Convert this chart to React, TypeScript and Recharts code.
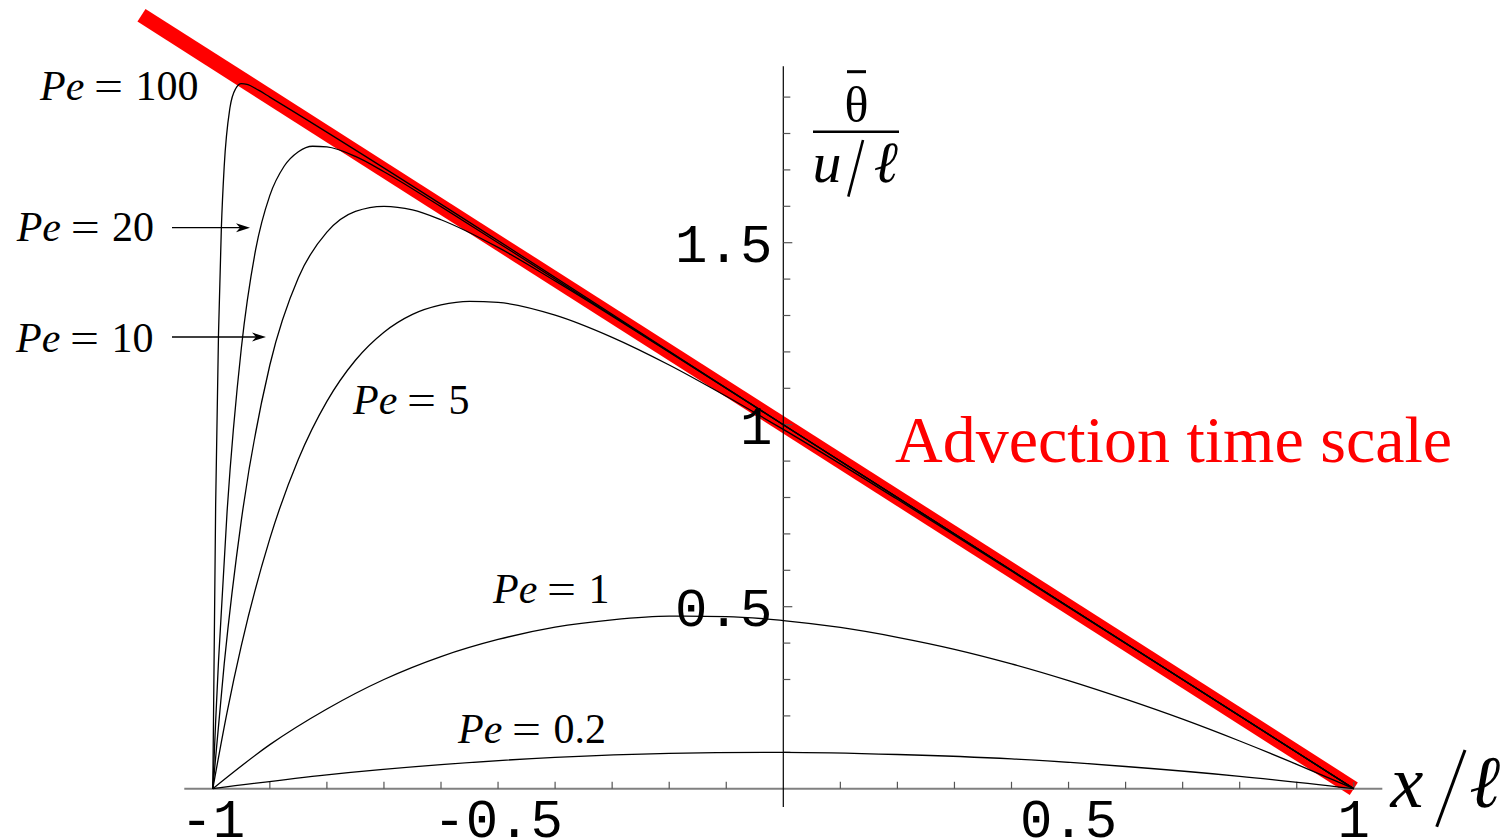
import React from 'react';
import { ComposedChart, Line, XAxis, YAxis, ReferenceLine } from 'recharts';

type Pt = { x: number; y: number };

const SERIF = '"Liberation Serif", "Times New Roman", Times, serif';
const MONO = '"Liberation Mono", "DejaVu Sans Mono", monospace';

// axis ticks
const X_LABEL_TICKS = [-1, -0.5, 0.5, 1];
const X_MINOR_TICKS = [-1, -0.9, -0.8, -0.7, -0.6, -0.5, -0.4, -0.3, -0.2, -0.1, 0.1, 0.2, 0.3, 0.4, 0.5, 0.6, 0.7, 0.8, 0.9, 1];
const Y_MINOR_TICKS = [0.1, 0.2, 0.3, 0.4, 0.6, 0.7, 0.8, 0.9, 1.1, 1.2, 1.3, 1.4, 1.6, 1.7, 1.8, 1.9];
const Y_MAJOR_TICKS = [0.5, 1, 1.5];

// advection time scale (1 - x/l)
const ADVECTION: Pt[] = [
  { x: -1.125, y: 2.125 },
  { x: 1, y: 0 },
];

// mean residence time for each Peclet number
const PE_100: Pt[] = [
  { x: -1, y: 0 }, { x: -0.995, y: 0.78 }, { x: -0.99, y: 1.25 }, { x: -0.985, y: 1.54 },
  { x: -0.98, y: 1.71 }, { x: -0.97, y: 1.87 }, { x: -0.96, y: 1.923 }, { x: -0.95, y: 1.937 },
  { x: -0.94, y: 1.935 }, { x: -0.92, y: 1.919 }, { x: -0.9, y: 1.9 }, { x: 0, y: 1 }, { x: 1, y: 0 },
];

const PE_20: Pt[] = [
  { x: -1, y: 0 }, { x: -0.995, y: 0.185 }, { x: -0.99, y: 0.35 }, { x: -0.975, y: 0.76 },
  { x: -0.95, y: 1.21 }, { x: -0.925, y: 1.48 }, { x: -0.9, y: 1.63 }, { x: -0.875, y: 1.71 },
  { x: -0.85, y: 1.75 }, { x: -0.825, y: 1.765 }, { x: -0.8, y: 1.763 }, { x: -0.75, y: 1.737 },
  { x: -0.7, y: 1.695 }, { x: -0.6, y: 1.599 }, { x: -0.5, y: 1.5 }, { x: 0, y: 1 }, { x: 1, y: 0 },
];

const PE_10: Pt[] = [
  { x: -1, y: 0 }, { x: -0.98, y: 0.343 }, { x: -0.95, y: 0.737 }, { x: -0.9, y: 1.164 },
  { x: -0.85, y: 1.404 }, { x: -0.8, y: 1.529 }, { x: -0.75, y: 1.586 }, { x: -0.7, y: 1.6 },
  { x: -0.65, y: 1.59 }, { x: -0.6, y: 1.563 }, { x: -0.5, y: 1.487 }, { x: -0.4, y: 1.395 },
  { x: -0.2, y: 1.199 }, { x: 0, y: 1 }, { x: 1, y: 0 },
];

const PE_5: Pt[] = [
  { x: -1, y: 0 }, { x: -0.975, y: 0.21 }, { x: -0.95, y: 0.393 }, { x: -0.9, y: 0.687 },
  { x: -0.85, y: 0.905 }, { x: -0.8, y: 1.064 }, { x: -0.75, y: 1.177 }, { x: -0.7, y: 1.254 },
  { x: -0.65, y: 1.303 }, { x: -0.6, y: 1.329 }, { x: -0.55, y: 1.339 }, { x: -0.5, y: 1.336 },
  { x: -0.4, y: 1.301 }, { x: -0.3, y: 1.24 }, { x: -0.2, y: 1.164 }, { x: -0.1, y: 1.078 },
  { x: 0, y: 0.987 }, { x: 0.2, y: 0.795 }, { x: 0.4, y: 0.598 }, { x: 0.6, y: 0.399 },
  { x: 0.8, y: 0.2 }, { x: 1, y: 0 },
];

const PE_1: Pt[] = [
  { x: -1, y: 0 }, { x: -0.9, y: 0.121 }, { x: -0.8, y: 0.219 }, { x: -0.7, y: 0.3 },
  { x: -0.6, y: 0.363 }, { x: -0.5, y: 0.41 }, { x: -0.4, y: 0.444 }, { x: -0.3, y: 0.464 },
  { x: -0.2, y: 0.474 }, { x: -0.1, y: 0.473 }, { x: 0, y: 0.462 }, { x: 0.1, y: 0.443 },
  { x: 0.2, y: 0.416 }, { x: 0.3, y: 0.383 }, { x: 0.4, y: 0.343 }, { x: 0.5, y: 0.297 },
  { x: 0.6, y: 0.246 }, { x: 0.7, y: 0.191 }, { x: 0.8, y: 0.131 }, { x: 0.9, y: 0.067 },
  { x: 1, y: 0 },
];

const PE_02: Pt[] = [
  { x: -1, y: 0 }, { x: -0.8, y: 0.038 }, { x: -0.6, y: 0.066 }, { x: -0.4, y: 0.086 },
  { x: -0.2, y: 0.097 }, { x: 0, y: 0.1 }, { x: 0.2, y: 0.094 }, { x: 0.4, y: 0.082 },
  { x: 0.6, y: 0.061 }, { x: 0.8, y: 0.034 }, { x: 1, y: 0 },
];

const CURVES = [PE_100, PE_20, PE_10, PE_5, PE_1, PE_02];

const XTick = (props: any) => {
  const { x, y, payload } = props;
  return (
    <text x={x} y={y + 48} textAnchor="middle" fontFamily={MONO} fontSize={54} fill="#000">
      {String(payload.value)}
    </text>
  );
};

const PeLabel = ({ x, y, value }: { x: number; y: number; value: string }) => (
  <g fontFamily={SERIF} fontSize={42} fill="#000">
    <text x={x} y={y} fontStyle="italic">Pe</text>
    <text x={x + 54} y={y} textLength={29} lengthAdjust="spacingAndGlyphs">=</text>
    <text x={x + 95.4} y={y}>{value}</text>
  </g>
);

const Arrow = ({ x1, x2, y }: { x1: number; x2: number; y: number }) => (
  <g>
    <line x1={x1} y1={y} x2={x2 - 8} y2={y} stroke="#000" strokeWidth={1.3} />
    <path d={`M${x2},${y} L${x2 - 14},${y - 4.5} L${x2 - 10},${y} L${x2 - 14},${y + 4.5} Z`} fill="#000" />
  </g>
);

const Annotations = () => (
  <g>
    <PeLabel x={32} y={92} value="100" />
    <PeLabel x={8.7} y={232.7} value="20" />
    <Arrow x1={164} x2={242} y={219.7} />
    <PeLabel x={8} y={343.7} value="10" />
    <Arrow x1={164} x2={258} y={329} />
    <PeLabel x={345} y={406} value="5" />
    <PeLabel x={485} y={594.7} value="1" />
    <PeLabel x={450} y={735} value="0.2" />

    <text x={887} y={454} fontFamily={SERIF} fontSize={66} fill="#ff0000">
      Advection time scale
    </text>

    {/* vertical axis label: theta-bar over u/l */}
    <text x={848.5} y={113.5} textAnchor="middle" fontFamily={SERIF} fontSize={50} fill="#000">θ</text>
    <line x1={839} y1={63.7} x2={858} y2={63.7} stroke="#000" strokeWidth={3} />
    <line x1={805} y1={123.7} x2={891} y2={123.7} stroke="#000" strokeWidth={2.6} />
    <text x={819} y={173.7} textAnchor="middle" fontFamily={SERIF} fontStyle="italic" fontSize={58} fill="#000">u</text>
    <line x1={840.3} y1={188.7} x2={855} y2={132} stroke="#000" strokeWidth={2.6} />
    <text x={877.8} y={173.7} textAnchor="middle" fontFamily={SERIF} fontStyle="italic" fontSize={58} fill="#000">ℓ</text>

    {/* horizontal axis label: x/l */}
    <text x={1399} y={799} textAnchor="middle" fontFamily={SERIF} fontStyle="italic" fontSize={74} fill="#000">x</text>
    <line x1={1428.7} y1={818.7} x2={1457} y2={742} stroke="#000" strokeWidth={3} />
    <text x={1477} y={799} textAnchor="middle" fontFamily={SERIF} fontStyle="italic" fontSize={74} fill="#000">ℓ</text>
  </g>
);

export default function App() {
  return (
    <div style={{ position: 'absolute', left: 8, top: 8, width: 1498, height: 832 }}>
      <ComposedChart
        width={1498}
        height={832}
        margin={{ top: 1.74, right: 38.1, bottom: 21.3, left: 33.65 }}
      >
        <XAxis
          type="number"
          dataKey="x"
          domain={[-1.3, 1.2]}
          ticks={X_LABEL_TICKS}
          interval={0}
          axisLine={false}
          tickLine={false}
          tickSize={0}
          tickMargin={0}
          height={30}
          tick={<XTick />}
        />
        <YAxis type="number" dataKey="y" domain={[0, 2.14]} hide />

        <Line
          data={ADVECTION}
          dataKey="y"
          type="linear"
          stroke="#ff0000"
          strokeWidth={15}
          dot={false}
          activeDot={false}
          isAnimationActive={false}
        />

        <ReferenceLine
          segment={[{ x: -1.05, y: 0 }, { x: 1.05, y: 0 }]}
          stroke="#808080"
          strokeWidth={2}
          ifOverflow="visible"
        />
        <ReferenceLine
          segment={[{ x: 0, y: -0.05 }, { x: 0, y: 1.985 }]}
          stroke="#000"
          strokeWidth={1.2}
          ifOverflow="visible"
        />
        {X_MINOR_TICKS.map((v) => (
          <ReferenceLine
            key={`xt${v}`}
            segment={[{ x: v, y: 0 }, { x: v, y: 0.019 }]}
            stroke="#555"
            strokeWidth={1.2}
            ifOverflow="visible"
          />
        ))}
        {Y_MINOR_TICKS.map((v) => (
          <ReferenceLine
            key={`yt${v}`}
            segment={[{ x: 0, y: v }, { x: 0.0123, y: v }]}
            stroke="#555"
            strokeWidth={1.2}
            ifOverflow="visible"
          />
        ))}
        {Y_MAJOR_TICKS.map((v) => (
          <ReferenceLine
            key={`ym${v}`}
            segment={[{ x: 0, y: v }, { x: 0.0158, y: v }]}
            stroke="#555"
            strokeWidth={1.2}
            ifOverflow="visible"
            label={{
              value: String(v),
              position: 'left',
              offset: 11,
              fontFamily: MONO,
              fontSize: 54,
              fill: '#000',
            }}
          />
        ))}

        {CURVES.map((pts, i) => (
          <Line
            key={`pe${i}`}
            data={pts}
            dataKey="y"
            type="monotone"
            stroke="#000"
            strokeWidth={1.3}
            dot={false}
            activeDot={false}
            isAnimationActive={false}
          />
        ))}

        <Annotations />
      </ComposedChart>
    </div>
  );
}
